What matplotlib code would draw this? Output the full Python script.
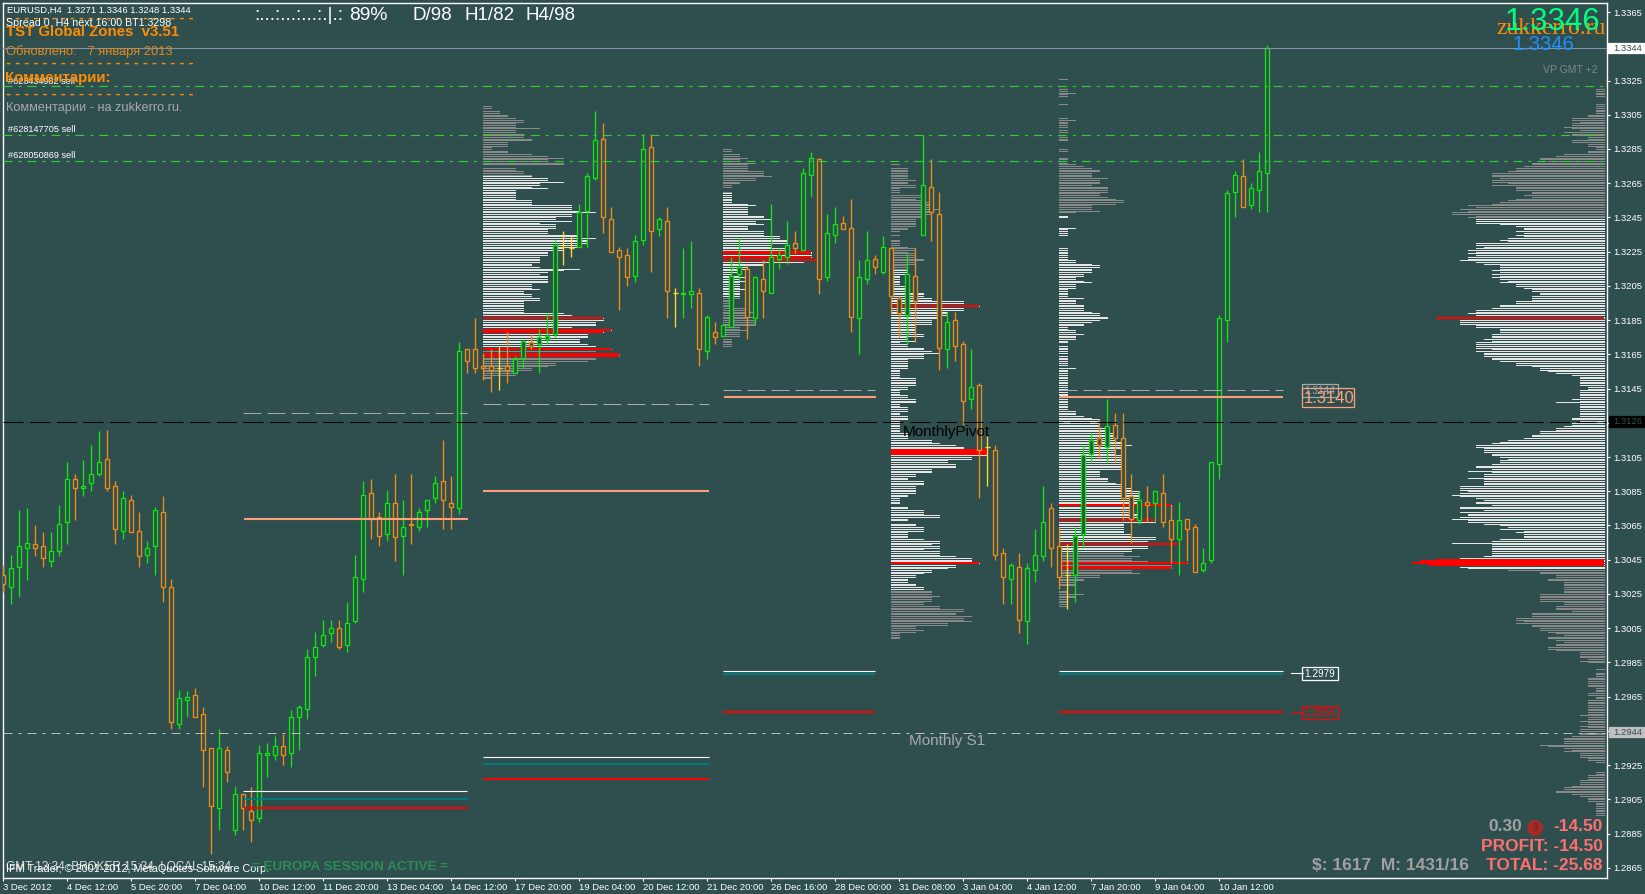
import numpy as np
import matplotlib
matplotlib.use("Agg")
import matplotlib.pyplot as plt
from matplotlib.patches import Rectangle

plt.rcParams["font.family"] = ["Liberation Sans", "DejaVu Sans"]

W, H = 1645, 894
BG = "#2f4f4f"
GREEN = "#0ee60e"
ORANGE = "#f08c14"
YELLOW = "#ffd92f"

# EURUSD H4 prices in 1/10000
opens = [13036,13029,13041,13052,13054,13053,13044,13050,13067,13092,
         13087,13090,13095,13104,13088,13062,13080,13062,13048,13053,
         13073,13029,12949,12963,12966,12955,12935,12900,12934,12887,
         12908,12898,12894,12931,12931,12936,12932,12953,12958,12988,
         12995,13002,13005,12995,13009,13034,13084,13070,13060,13078,
         13059,13066,13064,13074,13081,13091,13078,13075,13168,13168,
         13158,13158,13157,13158,13154,13163,13172,13171,13174,13177,
         13228,13227,13228,13249,13268,13291,13244,13226,13223,13211,
         13232,13286,13238,13243,13201,13200,13200,13201,13167,13178,
         13176,13181,13212,13215,13186,13209,13201,13221,13222,13230,
         13226,13270,13279,13210,13235,13242,13239,13186,13209,13221,
         13213,13227,13198,13188,13211,13235,13263,13247,13168,13185,
         13171,13139,13147,13111,13109,13049,13034,13041,13009,13039,
         13047,13075,13053,13036,13036,13060,13107,13116,13111,13124,
         13116,13082,13068,13079,13078,13084,13068,13057,13069,13064,
         13039,13045,13101,13185,13260,13269,13252,13261,13271]
highs = [13042,13048,13074,13075,13065,13061,13061,13077,13102,13095,
         13103,13112,13120,13121,13091,13085,13083,13073,13056,13076,
         13082,13034,12969,12968,12970,12959,12935,12946,12936,12913,
         12908,12912,12937,12938,12942,12943,12957,12960,12993,13003,
         13010,13010,13010,13020,13048,13091,13092,13073,13086,13095,
         13080,13095,13075,13080,13094,13115,13094,13172,13168,13186,
         13166,13168,13170,13178,13164,13173,13177,13180,13189,13232,
         13237,13235,13253,13271,13307,13300,13251,13228,13227,13235,
         13294,13294,13245,13251,13204,13227,13231,13204,13188,13184,
         13183,13222,13233,13217,13211,13220,13253,13227,13243,13237,
         13274,13283,13280,13247,13251,13246,13256,13220,13237,13223,
         13234,13228,13199,13224,13227,13293,13279,13260,13190,13190,
         13173,13168,13148,13117,13112,13052,13043,13049,13043,13063,
         13088,13078,13064,13054,13064,13112,13119,13127,13139,13131,
         13131,13095,13085,13088,13085,13095,13077,13079,13069,13066,
         13052,13102,13188,13261,13272,13279,13265,13283,13346]
lows = [13026,13019,13023,13033,13047,13041,13041,13047,13054,13068,
        13082,13085,13094,13085,13054,13057,13061,13041,13043,13036,
        13020,12946,12946,12953,12953,12912,12873,12887,12915,12884,
        12887,12880,12892,12918,12928,12925,12924,12934,12952,12977,
        12994,12997,12993,12991,13008,13026,13057,13053,13056,13044,
        13036,13054,13062,13064,13078,13063,13063,13072,13154,13154,
        13150,13143,13144,13148,13154,13157,13168,13154,13171,13175,
        13217,13222,13228,13228,13267,13236,13225,13191,13205,13207,
        13229,13213,13234,13186,13181,13186,13192,13158,13162,13171,
        13176,13181,13208,13174,13183,13186,13201,13215,13218,13224,
        13226,13257,13200,13208,13230,13238,13178,13165,13206,13212,
        13212,13189,13175,13171,13172,13235,13231,13156,13157,13161,
        13124,13133,13081,13088,13045,13019,13019,13002,12996,13032,
        13044,13041,13028,13016,13020,13052,13102,13104,13102,13102,
        13068,13055,13066,13067,13068,13064,13043,13036,13044,13038,
        13038,13043,13092,13172,13245,13251,13250,13248,13248]
closes = [13031,13040,13053,13055,13052,13046,13050,13066,13092,13087,
          13088,13095,13102,13087,13063,13081,13061,13047,13052,13074,
          13029,12950,12964,12965,12953,12934,12901,12935,12921,12908,
          12900,12893,12932,12932,12936,12931,12953,12959,12988,12994,
          13001,13005,12994,13008,13035,13083,13069,13059,13078,13058,
          13064,13065,13073,13080,13090,13080,13076,13167,13161,13157,
          13157,13156,13157,13156,13162,13173,13170,13175,13176,13229,
          13228,13227,13248,13269,13290,13245,13225,13222,13210,13231,
          13285,13237,13244,13202,13201,13201,13202,13168,13187,13175,
          13182,13211,13216,13187,13210,13202,13222,13223,13229,13227,
          13271,13280,13209,13236,13241,13238,13187,13210,13220,13216,
          13228,13199,13189,13212,13196,13264,13248,13169,13184,13170,
          13138,13146,13109,13111,13048,13035,13042,13010,13040,13048,
          13067,13052,13035,13036,13059,13106,13115,13112,13123,13116,
          13081,13069,13080,13077,13085,13067,13057,13068,13063,13038,
          13043,13102,13186,13259,13270,13251,13262,13272,13344]

date_labels = ["3 Dec 2012", "4 Dec 12:00", "5 Dec 20:00", "7 Dec 04:00", "10 Dec 12:00",
               "11 Dec 20:00", "13 Dec 04:00", "14 Dec 12:00", "17 Dec 20:00", "19 Dec 04:00",
               "20 Dec 12:00", "21 Dec 20:00", "26 Dec 16:00", "28 Dec 00:00", "31 Dec 08:00",
               "3 Jan 04:00", "4 Jan 12:00", "7 Jan 20:00", "9 Jan 04:00", "10 Jan 12:00"]

# volume profiles: one value per pip going down from the top level
vp_main_top = 13320
vp_main = [1,1,1,1,1,0,0,0,0,1, 1,1,1,1,1,2,2,4,4,3, 4,4,5,4,3,5,4,4,2,2, 4,4,2,2,1,1,2,2,5,6,
           8,8,7,9,9,10,11,11,12,14, 14,14,13,14,14,12,14,11,11,11, 9,9,10,9,11,12,13,14,17,16,
           18,17,19,19,16,17,16,16,16,13, 11,10,10,11,10,11,10,12,13,12, 16,16,15,16,17,16,17,16,17,17,
           18,16,15,13,13,13,14,13,14,13, 14,13,12,13,11,11,10,9,9,8, 8,9,9,9,11,11,13,13,14,16,
           16,17,16,18,21,18,18,18,16,16, 13,13,13,14,14,14,15,14,16,16, 16,16,14,16,15,15,15,14,14,13,
           11,11,9,8,8,7,6,4,3,3, 3,3,3,3,2,2,3,3,3,3, 3,4,3,6,3,3,3,3,3,3, 3,3,4,4,3,4,4,5,6,6,
           8,8,9,9,10,12,13,14,16,16, 15,15,15,14,14,13,12,13,13,14, 16,16,14,17,14,15,15,17,15,15,
           15,15,18,18,18,17,18,19,18,16, 15,16,16,14,18,18,15,18,17,17, 18,19,17,17,15,13,12,13,10,11,
           10,10,10,13,14,19,14,14,14,14, 14,14,14,15,18,21,23,24,22,18, 17,12,8,8,6,6,7,7,5,5,
           5,5,5,5,5,8,8,8,8,8, 5,5,6,6,6,4,9,9,9,11, 11,10,11,9,9,8,8,7,6,5, 7,7,6,5,6,6,7,7,6,3,
           3,3,3,2,3,2,0,0,0,1, 0,1,1,1,2,2,2,2,2,2, 1,1,1,2,2,1,1,2,2,2, 2,2,2,2,2,2,3,2,2,3,
           2,2,3,2,3,3,3,3,4,5, 5,5,5,8,7,5,4,5,3,3, 3,2,2,1,0,0,0,0,0,1, 1,2,2,2,3,3,3,4,5,5,
           6,6,4,3,2,2,2,1,1,1, 1,1,1,1,1]
vp_main_red = [13186, 13045, 13044, 13043, 13042]

vp_a_top = 13310
vp_a = [1,1,0,2,2,3,3,4,5,5, 4,4,4,7,4,4,5,5,5,6, 6,3,3,3,1,1,3,3,6,8, 10,8,8,10,10,0,4,4,5,5,
        6,6,8,8,10,7,7,6,8,4, 4,4,4,4,4,6,6,6,11,11, 11,12,14,11,11,9,9,11,7,9, 9,9,8,8,8,12,12,14,13,13,
        13,12,12,10,10,8,8,8,7,7, 7,7,6,6,7,12,10,8,7,8, 8,8,8,8,6,6,6,7,5,5, 6,6,7,7,5,5,5,5,5,5,
        5,10,11,11,15,15,14,14,14,11, 11,16,15,13,13,13,12,12,12,13, 14,14,16,14,14,17,17,14,14,13,
        9,9,8,6,6,4,4,4,1,1]
vp_a_red = [13186, 13179, 13178, 13168, 13165, 13164]

vp_b_top = 13285
vp_b = [1,1,0,2,2,3,2,2,4,3, 3,3,3,5,5,5,6,4,4,2, 2,1,1,0,0,1,1,1,1,1, 1,1,3,4,3,3,3,3,3,5,
        5,6,4,4,5,3,3,3,5,5, 5,7,7,8,8,8,6,6,8,8, 11,11,11,11,11,12,10,5,5,3, 3,2,2,1,2,3,2,3,2,2,
        2,2,3,2,2,2,2,2,1,1, 1,1,1,3,3,4,3,3,4,3, 4,4,4,4,2,2,3,2,2,2, 0,1,1,1,1,1]
vp_b_red = [13225, 13224, 13222, 13220]

vp_c_top = 13276
vp_c = [1,0,2,2,2,2,2,2,2,3, 2,2,3,3,1,1,1,0,4,4, 3,4,5,5,5,5,6,5,5,5, 4,4,3,3,3,3,3,2,2,1,
        0,1,0,0,1,1,1,1,2,3, 3,2,3,3,3,4,4,3,3,2, 2,2,2,2,2,1,1,1,1,1, 1,2,2,2,2,4,4,4,5,5,
        9,9,9,11,9,9,7,7,7,6, 6,5,5,5,3,3,3,3,3,4, 4,2,2,3,1,2,2,4,4,5, 6,4,4,4,2,2,2,2,2,2,
        1,1,1,1,1,3,3,3,3,3, 2,2,1,1,1,2,2,3,3,3, 1,1,2,2,2,1,1,2,2,2, 1,1,1,1,1,1,1,2,2,2,
        2,5,5,6,8,9,9,12,12,12, 12,10,10,7,7,8,8,8,5,5, 5,3,3,2,2,4,4,4,3,3, 3,3,3,2,2,1,1,1,1,0,
        2,2,4,4,4,6,6,2,2,0, 3,3,4,4,4,2,2,2,2,4, 6,6,5,6,6,4,6,6,6,8, 10,10,10,11,8,8,7,5,5,4,
        3,3,2,2,2,3,3,4,4,5, 5,5,6,5,5,5,4,4,6,6, 9,9,8,8,10,9,9,10,7,7, 3,3,4,3,1,1,1,1]
vp_c_red = [13193, 13109, 13108, 13107, 13043]

vp_d_top = 13326
vp_d = [1,0,0,0,0,0,1,1,2,1, 1,0,0,0,0,1,0,0,0,0, 0,0,0,1,2,1,1,1,1,0, 1,1,0,0,1,1,1,0,0,0,
        0,1,1,0,0,0,1,1,0,1, 2,3,4,5,5,4,4,4,6,5, 5,5,4,6,6,6,6,5,5,6, 7,8,8,7,4,4,4,5,2,0,
        1,1,0,0,0,0,0,2,1,1, 1,1,0,0,0,0,0,0,0,1, 1,1,1,1,1,1,2,2,4,5, 5,4,4,4,3,3,2,2,3,4,
        2,2,2,1,1,1,1,1,3,2, 2,2,3,3,3,3,4,5,5,6, 6,5,4,3,3,1,1,2,2,3, 2,2,2,1,1,0,1,1,1,1,
        1,0,1,1,1,1,1,1,0,2, 1,1,1,1,1,1,1,1,1,1, 1,1,1,1,1,1,1,1,1,1, 1,1,1,1,2,2,2,3,4,5,
        5,5,5,5,6,6,6,7,7,7, 7,7,8,8,9,8,8,7,7,7, 8,8,8,8,8,8,8,8,8,5, 5,5,5,6,6,6,7,8,8,9,
        9,10,10,10,10,10,10,10,10,14, 9,9,9,9,10,10,10,12,12,12, 8,8,8,8,8,8,9,9,12,12,
        11,11,15,11,11,9,9,8,8,10, 9,9,11,16,14,14,14,9,9,10, 5,5,3,3,2,2,2,0,0,1,
        1,3,2,2,1,1,1,1,1]
vp_d_red = [13077, 13068, 13054, 13043, 13041, 13040]

# lines
bid_price = 1.3344
order_lines = [1.3322, 1.3293, 1.3278]
monthly_pivot = 1.31253
monthly_s1 = 1.2944
sessions_dash = [(30, 58, 1.31305), (60, 88.2, 1.31358), (90, 109, 1.3144), (132, 160, 1.3144)]
sessions_salmon = [(30.1, 58.1, 1.30688), (60, 88.2, 1.3085), (90.1, 109.1, 1.3140), (132.1, 160, 1.3140)]
sessions_white = [(30, 58, 1.29097), (60, 88.2, 1.2930), (90, 109, 1.2980), (132, 160, 1.2980)]
sessions_teal = [(30.1, 58.1, 1.29053), (60, 88.2, 1.29256), (90, 109, 1.29785), (132, 160, 1.29785)]
sessions_red = [(30.1, 58.1, 1.28999), (60, 88.2, 1.2917), (90, 109, 1.2956), (132, 160, 1.2956)]

o = np.array(opens) / 10000
h = np.array(highs) / 10000
l = np.array(lows) / 10000
c = np.array(closes) / 10000
xs = np.arange(len(o))

fig = plt.figure(figsize=(W / 100, H / 100), dpi=100, facecolor=BG)
ax = fig.add_axes([2.5 / W, (H - 877.5) / H, (1607 - 2.5) / W, 875 / H], facecolor=BG)
ax.set_xlim(-0.1, 200.46)
ax.set_ylim(1.28593, 1.33706)


def profile(x0, top, vols, lo_white, hi_white, red, direction=1):
    vols = np.array(vols)
    pips = top - np.arange(len(vols))
    keep = vols > 0
    pips, vols = pips[keep], vols[keep]
    is_red = np.isin(pips, red)
    cols = ["#e6e6e6" if lo_white <= p <= hi_white else "#8a8a8a" for p in pips]
    ax.hlines(pips / 10000, x0, x0 + direction * vols, colors=cols, lw=0.72,
              antialiased=False, zorder=2)
    ax.hlines(pips[is_red] / 10000, x0, x0 + direction * vols[is_red], colors="#ff0000", lw=1.3,
              antialiased=False, zorder=2.5)


profile(60, vp_a_top, vp_a, 13170, 13269, vp_a_red)
profile(90, vp_b_top, vp_b, 13199, 13259, vp_b_red)
profile(111, vp_c_top, vp_c, 13028, 13214, vp_c_red)
profile(132, vp_d_top, vp_d, 13050, 13246, vp_d_red)
profile(200.1, vp_main_top, vp_main, 13040, 13244, vp_main_red, direction=-1)

# candles
for i in xs:
    col = GREEN if c[i] > o[i] else ORANGE if c[i] < o[i] else YELLOW
    ax.vlines(i, l[i], h[i], color=col, lw=0.95, zorder=3)
    if c[i] == o[i]:
        ax.hlines(c[i], i - 0.28, i + 0.28, color=col, lw=0.95, zorder=3)
    else:
        ax.bar(i, abs(c[i] - o[i]), bottom=min(o[i], c[i]), width=0.46, facecolor=BG,
               edgecolor=col, linewidth=0.95, zorder=3)

# horizontal levels
DASH = (18, 6)
DASHDOT = (9, 6, 3, 6)
for p in order_lines:
    ax.axhline(p, color="#32cd32", lw=0.85, dashes=(7.6, 5.1, 2.5, 5.1), dash_capstyle="butt", zorder=4)
ax.axhline(bid_price, color="#8492a6", lw=0.8, zorder=4)
ax.axhline(monthly_pivot, color="black", lw=0.8, dashes=DASH, dash_capstyle="butt", zorder=5)
ax.axhline(monthly_s1, color="#c0c0c0", lw=0.72, dashes=DASHDOT, dash_capstyle="butt", zorder=5)

for x0, x1, p in sessions_dash:
    ax.plot([x0, x1], [p, p], color="#a9a9a9", lw=0.72, dashes=DASH, dash_capstyle="butt", zorder=4)
for x0, x1, p in sessions_salmon:
    ax.plot([x0, x1], [p, p], color="#ffa07a", lw=1.5, solid_capstyle="butt", zorder=4)
for x0, x1, p in sessions_teal:
    ax.plot([x0, x1], [p, p], color="#008080", lw=1.3, solid_capstyle="butt", zorder=4)
for x0, x1, p in sessions_white:
    ax.plot([x0, x1], [p, p], color="white", lw=0.8, solid_capstyle="butt", zorder=4)
for x0, x1, p in sessions_red:
    ax.plot([x0, x1], [p, p], color="#ff0000", lw=1.45, solid_capstyle="butt", zorder=4)
ax.plot([161, 162.4], [1.2979, 1.2979], color="white", lw=0.8, zorder=4)
ax.plot([161, 162.4], [1.2956, 1.2956], color="#ff0000", lw=0.8, zorder=4)

# axes
for s in ax.spines.values():
    s.set_color("white")
    s.set_linewidth(1.0)
ax.yaxis.tick_right()
yticks = np.arange(1.2865, 1.33651, 0.0020)
ax.set_yticks(yticks)
ax.set_yticklabels([f"{v:.4f}" for v in yticks])
ax.set_xticks(np.arange(len(date_labels)) * 8)
ax.set_xticklabels(date_labels, ha="left")
ax.tick_params(axis="both", colors="white", labelsize=6.8, length=2.4, width=0.8, pad=2)
ax.tick_params(axis="x", pad=1.5)


def label(x, y, s, **kw):
    kw.setdefault("va", "center")
    kw.setdefault("color", "white")
    kw.setdefault("zorder", 6)
    return fig.text(x / W, 1 - y / H, s, **kw)


def tag(x0, y0, x1, y1, s, fc, ec, tc, size, tx):
    fig.add_artist(Rectangle((x0 / W, 1 - y1 / H), (x1 - x0) / W, (y1 - y0) / H, transform=fig.transFigure,
                             facecolor=fc, edgecolor=ec, linewidth=0.9, zorder=5))
    label(tx, (y0 + y1) / 2 + 0.5, s, color=tc, fontsize=size)


# right side price tags
tag(1608, 43, 1645, 53, "1.3344", "white", "white", "#2f4f4f", 6.8, 1613)
tag(1609, 416, 1645, 427, "1.3126", "black", "black", "#2f4f4f", 6.8, 1613)
tag(1609, 727, 1645, 737, "1.2944", "#c0c0c0", "#c0c0c0", "#2f4f4f", 6.8, 1613)

# level tags beside the last session
tag(1302, 384, 1338, 397, "1.3144", "none", "#a9a9a9", "#a9a9a9", 7.2, 1304)
tag(1302, 388, 1354, 407, "1.3140", "none", "#ffa07a", "#ffa07a", 12, 1304)
tag(1302, 667, 1338, 680, "1.2979", "none", "white", "white", 7.2, 1304)
tag(1302, 706, 1338, 719, "1.2956", "none", "#ff0000", "#ff0000", 7.2, 1304)

# top left info
label(6.5, 10.7, "EURUSD,H4  1.3271 1.3346 1.3248 1.3344", fontsize=6.8)
label(5.5, 18, "- " * 21, color="#ff8c00", fontsize=10.8, fontweight="bold")
label(5.5, 22.5, "Spread 0  H4 next 16:00 BT1.3298", fontsize=7.7)
label(5.5, 32.5, "TST Global Zones  v3.51", color="#ff8c00", fontsize=10.8, fontweight="bold")
label(5.5, 51.5, "Обновлено:   7 января 2013", color="#e08a1e", fontsize=9.3)
label(5.5, 63, "- " * 21, color="#ff8c00", fontsize=10.8, fontweight="bold")
label(7.5, 81.5, "#628434982 sell", fontsize=6.6)
label(5.5, 78, "Комментарии:", color="#ff8c00", fontsize=10.8, fontweight="bold")
label(5.5, 94, "- " * 21, color="#ff8c00", fontsize=10.8, fontweight="bold")
label(5.5, 107.5, "Комментарии - на zukkerro.ru.", color="#a9a9a9", fontsize=9.2)
label(7.5, 130, "#628147705 sell", fontsize=6.6)
label(7.5, 155.5, "#628050869 sell", fontsize=6.6)

# top strength meter
label(254, 15.5, ":...:...:...:.|.:", fontsize=13.8)
label(349, 15, "89%", fontsize=13.9)
label(413, 15, "D/98", fontsize=13.5)
label(464, 15, "H1/82", fontsize=13.5)
label(525.5, 15, "H4/98", fontsize=13.5)

# top right price
label(1606, 29, "zukkerro.ru", color="#ff8c00", fontsize=17, ha="right", family=["Liberation Serif"])
label(1505, 22, "1.3346", color="#00ff7f", fontsize=22.5)
label(1513, 44, "1.3346", color="#1e90ff", fontsize=14.5)
label(1543, 70, "VP GMT +2", color="#778888", fontsize=7.6)

label(903, 432, "MonthlyPivot", color="black", fontsize=11)
label(909, 741, "Monthly S1", color="#a9a9a9", fontsize=11)

# bottom left
label(6, 867, "GMT 13:34  BROKER 15:34  LOCAL 15:34", color="#dddddd", fontsize=8.5)
label(6, 869, "IFM Trader, © 2001-2012, MetaQuotes Software Corp.", fontsize=7.8)
label(252, 867, "= EUROPA SESSION ACTIVE =", color="#2e8b57", fontsize=9.7, fontweight="bold")

# bottom right account box
LOSS = "#ff6f6f"
GRAY = "#a0a0a0"
label(1488, 826.5, "0.30", color=GRAY, fontsize=12.5, fontweight="bold")
label(1535, 828, "3", color="#6e1a1a", fontsize=7, ha="center",
      bbox=dict(boxstyle="circle,pad=0.3", fc="#a52a2a", ec="none"))
label(1603, 826.5, "-14.50", color=LOSS, fontsize=12.5, fontweight="bold", ha="right")
label(1603, 846.5, "PROFIT: -14.50", color=LOSS, fontsize=12.5, fontweight="bold", ha="right")
label(1603, 866, "TOTAL: -25.68", color=LOSS, fontsize=12.5, fontweight="bold", ha="right")
label(1312, 866, "$: 1617  M: 1431/16", color=GRAY, fontsize=12.5, fontweight="bold")

fig.savefig("out.png", dpi=100, facecolor=BG)
